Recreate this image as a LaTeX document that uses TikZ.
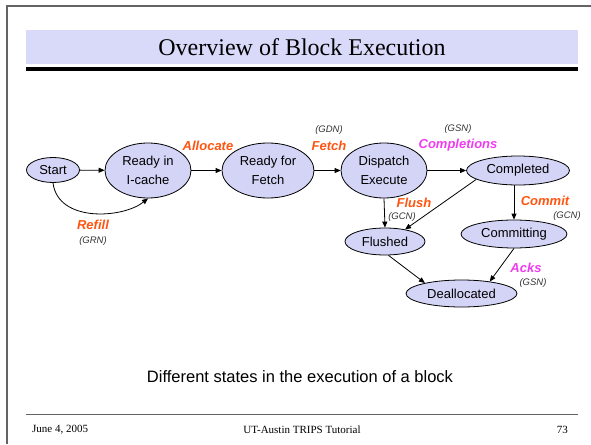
\documentclass[tikz,border=0pt]{standalone}
\usepackage{fontspec}
\setmainfont{Liberation Serif}
\setsansfont{Liberation Sans}
\usetikzlibrary{arrows.meta,shapes.geometric}
\definecolor{sFill}{HTML}{D4D4F7}
\definecolor{sBand}{HTML}{D9D9FA}
\definecolor{sOrange}{HTML}{FF5511}
\definecolor{sMagenta}{HTML}{F03CF0}
\definecolor{sFrame}{HTML}{646464}
\definecolor{sNet}{HTML}{333333}
\tikzset{
  >={Triangle[length=6pt,width=5pt]},
  blk/.style ={ellipse,draw,line width=0.8pt,fill=sFill,align=center,inner sep=0pt,font=\sffamily\fontsize{13}{19}\selectfont},
  evt/.style ={text=sOrange,font=\sffamily\bfseries\itshape\fontsize{13}{15}\selectfont},
  evm/.style ={evt,text=sMagenta},
  net/.style ={text=sNet,font=\sffamily\itshape\fontsize{9.5}{11}\selectfont},
  foot/.style={inner sep=0pt,font=\fontsize{11}{13}\selectfont},
  flow/.style={->,line width=0.8pt},
}

\begin{document}
\begin{tikzpicture}[x=1pt,y=-1pt]
  \useasboundingbox (0,0) rectangle (591,444);
  \draw[sFrame,line width=2pt] (7,444) -- (7,6) -- (591,6);
  \fill[sBand] (26,30) rectangle (578,64);
  \node[font=\fontsize{24}{28}\selectfont] (title) at (302,47) {Overview of Block Execution};
  \draw[line width=3.5pt] (26,69) -- (578,69);

  \node[blk,minimum width=53pt,minimum height=25pt] (start) at (53,170) {Start};
  \node[blk,minimum width=86pt,minimum height=55pt] (icache) at (148,170.5) {Ready in\\I-cache};
  \node[blk,minimum width=92pt,minimum height=55pt] (rdyfetch) at (268,170.5) {Ready for\\Fetch};
  \node[blk,minimum width=86pt,minimum height=55pt] (dispatch) at (384,170.5) {Dispatch\\Execute};
  \node[blk,minimum width=103pt,minimum height=29pt] (completed) at (518,170.5) {Completed};
  \node[blk,minimum width=80pt,minimum height=27pt] (flushed) at (385,241.5) {Flushed};
  \node[blk,minimum width=106pt,minimum height=28pt] (committing) at (514,234) {Committing};
  \node[blk,minimum width=111pt,minimum height=27pt] (dealloc) at (461.5,293.5) {Deallocated};

  \node[evt] (alloc) at (208,146) {Allocate};
  \node[evt] (fetch) at (329,146) {Fetch};
  \node[net] (gdn) at (329,130) {(GDN)};
  \node[evm] (compl) at (458,145) {Completions};
  \node[net] (gsnc) at (458,129) {(GSN)};
  \node[evt] (refill) at (93,225) {Refill};
  \node[net] (grn) at (93,241) {(GRN)};
  \node[evt] (flush) at (414,203) {Flush};
  \node[net] (gcnf) at (402,217) {(GCN)};
  \node[evt] (commit) at (545,201) {Commit};
  \node[net] (gcnc) at (567,216) {(GCN)};
  \node[evm] (acks) at (526,268) {Acks};
  \node[net] (gsna) at (533,283) {(GSN)};

  \draw[flow] (start) -- (icache);
  \draw[flow] (icache) -- (rdyfetch);
  \draw[flow] (rdyfetch) -- (dispatch);
  \draw[flow] (dispatch) -- (completed);
  \draw[flow] (start.south) .. controls +(5,40) and +(-25,20) .. (icache.south);
  \draw[flow] (dispatch.south) -- (flushed.north);
  \draw[flow] (completed.192) -- (flushed.31);
  \draw[flow] (completed.south -| committing.north) -- (committing.north);
  \draw[flow] (flushed.284) -- (dealloc.164);
  \draw[flow] (committing.south) -- (dealloc.23);

  \node[font=\sffamily\fontsize{16.5}{19}\selectfont] (caption) at (300,377) {Different states in the execution of a block};
  \draw[sFrame,line width=1pt] (26,414) -- (578,414);
  \node[foot,anchor=west] (date) at (32,430) {June 4, 2005};
  \node[foot] (event) at (302,430) {UT-Austin TRIPS Tutorial};
  \node[foot,anchor=east] (page) at (568,430) {73};
\end{tikzpicture}
\end{document}
